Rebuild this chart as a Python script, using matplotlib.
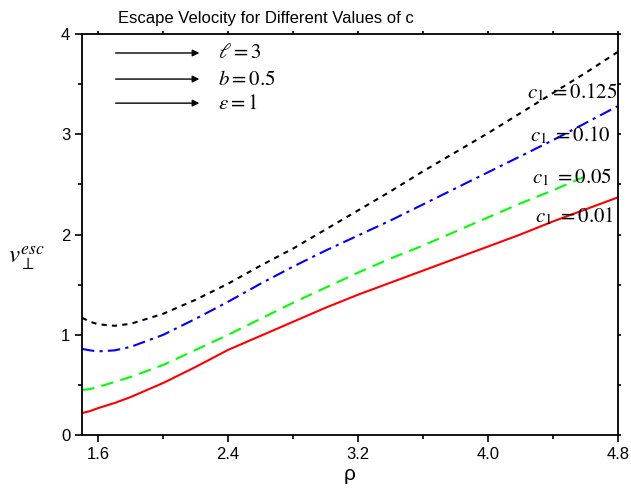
import matplotlib
matplotlib.use('Agg')
import matplotlib.pyplot as plt
from matplotlib.ticker import MultipleLocator, FixedLocator

plt.rcParams['font.family'] = ['Liberation Sans', 'DejaVu Sans']
plt.rcParams['mathtext.fontset'] = 'stix'

# rho grid and escape velocity curves
rho = [1.5, 1.55, 1.6, 1.7, 1.8, 2.0, 2.2, 2.4, 2.6, 2.8, 3.0, 3.2, 3.4, 3.6, 3.8, 4.0, 4.2, 4.4, 4.6, 4.8]
v_c001 = [0.22, 0.24, 0.27, 0.32, 0.38, 0.52, 0.68, 0.85, 0.99, 1.13, 1.27, 1.40, 1.52, 1.64, 1.76, 1.88, 2.00, 2.13, 2.25, 2.37]
v_c005 = [0.45, 0.46, 0.48, 0.53, 0.58, 0.70, 0.85, 1.00, 1.16, 1.32, 1.47, 1.62, 1.76, 1.89, 2.03, 2.17, 2.31, 2.44, 2.58]
v_c010 = [0.86, 0.845, 0.835, 0.845, 0.88, 1.00, 1.16, 1.33, 1.51, 1.68, 1.84, 1.99, 2.14, 2.30, 2.46, 2.62, 2.78, 2.94, 3.11, 3.28]
v_c0125 = [1.17, 1.13, 1.105, 1.09, 1.11, 1.21, 1.35, 1.51, 1.69, 1.86, 2.05, 2.24, 2.43, 2.63, 2.82, 3.01, 3.21, 3.41, 3.61, 3.82]

curve_labels = [r'$c_1\ =0.125$', r'$c_1\ =0.10$', r'$c_1\ =0.05$', r'$c_1\ =0.01$']
params = [r'$\ell=3$', r'$b=0.5$', r'$\varepsilon=1$']

fig = plt.figure(figsize=(6.31, 4.99), dpi=100)
ax = fig.add_axes([0.130, 0.128, 0.849, 0.804])

ax.plot(rho, v_c001, color='#ff0000', lw=1.5)
ax.plot(rho[:len(v_c005)], v_c005, color='#00ff00', lw=1.5, dashes=(6, 3.5))
ax.plot(rho, v_c010, color='#0000ff', lw=1.5, dashes=(6, 2.5, 1.5, 2.5))
ax.plot(rho, v_c0125, color='black', lw=1.5, dashes=(2.5, 2.5))

ax.set_xlim(1.5, 4.8)
ax.set_ylim(0, 4)
ax.xaxis.set_major_locator(FixedLocator([1.6, 2.4, 3.2, 4.0, 4.8]))
ax.xaxis.set_minor_locator(FixedLocator([2.0, 2.8, 3.6, 4.4]))
ax.yaxis.set_major_locator(MultipleLocator(1))
ax.yaxis.set_minor_locator(MultipleLocator(0.5))
ax.tick_params(which='both', direction='out', labelsize=12, width=1.2)
ax.tick_params(which='major', length=5)
ax.tick_params(which='minor', length=3)
ax.tick_params(which='both', top=True, right=True)
ax.tick_params(which='both', axis='x', top=True)
for tl in ax.xaxis.get_ticklines(minor=False)[1::2] + ax.xaxis.get_ticklines(minor=True)[1::2]:
    tl.set_markersize(2)
for tl in ax.yaxis.get_ticklines(minor=False)[1::2] + ax.yaxis.get_ticklines(minor=True)[1::2]:
    tl.set_markersize(2)
for sp in ax.spines.values():
    sp.set_linewidth(1.3)

ax.set_xlabel(r'ρ', fontsize=15, labelpad=2)
fig.text(8 / 631, 1 - 258 / 499, r'$v_{\perp}^{esc}$', fontsize=18, va='center', ha='left')

fig.text(118 / 631, 1 - 18 / 499, 'Escape Velocity for Different Values of c', fontsize=12, va='center', ha='left')

# parameter arrows
arrow_y = [3.81, 3.55, 3.31]
for y, lab in zip(arrow_y, params):
    ax.annotate('', xy=(2.24, y), xytext=(1.69, y),
                arrowprops=dict(arrowstyle='-|>', color='black', lw=1, mutation_scale=10))
    ax.text(2.34, y, lab, fontsize=15, va='center', ha='left')

lab_x = [4.24, 4.26, 4.27, 4.29]
lab_y = [3.42, 2.99, 2.57, 2.18]
for x, y, lab in zip(lab_x, lab_y, curve_labels):
    ax.text(x, y, lab, fontsize=15, va='center', ha='left')

fig.savefig('out.png', dpi=100)
